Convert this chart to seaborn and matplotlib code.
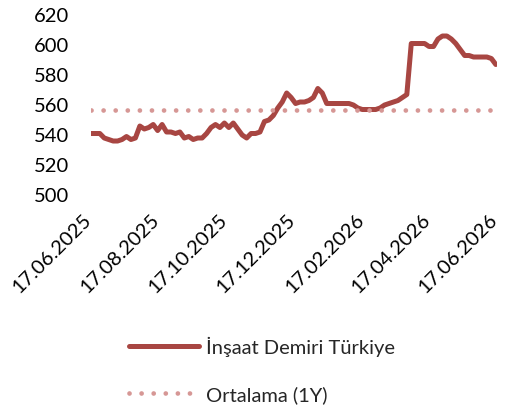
import matplotlib
matplotlib.use("Agg")
import matplotlib.pyplot as plt
import matplotlib.transforms as mtransforms
import seaborn as sns
import pandas as pd

# ---- data ----
start_date = "2025-06-17"
step = "4D"
values = [540, 540, 540, 537, 536, 535, 535, 536, 538, 536,
          537, 545, 543, 544, 546, 542, 546, 541, 541, 540,
          541, 537, 538, 536, 537, 537, 540, 544, 546, 544,
          547, 544, 547, 543, 539, 537, 540, 540, 541, 548,
          549, 552, 557, 561, 567, 564, 560, 561, 561, 562,
          564, 570, 567, 560, 560, 560, 560, 560, 560, 559,
          557, 556, 556, 556, 556, 557, 559, 560, 561, 562,
          564, 566, 600, 600, 600, 600, 598, 598, 603, 605,
          605, 603, 600, 596, 592, 592, 591, 591, 591, 591,
          590, 586]
mean_value = 556
series_name = "İnşaat Demiri Türkiye"
mean_name = "Ortalama (1Y)"
tick_dates = ["2025-06-17", "2025-08-17", "2025-10-17", "2025-12-17",
              "2026-02-17", "2026-04-17", "2026-06-17"]
y_ticks = [500, 520, 540, 560, 580, 600, 620]

dates = pd.date_range(start_date, periods=len(values), freq=step)
df = pd.DataFrame({"date": dates, "value": values,
                   "mean": [mean_value] * len(values)})

sns.set_theme(style="white")
plt.rcParams["font.family"] = ["Lato", "DejaVu Sans"]

fig = plt.figure(figsize=(5.05, 4.10), dpi=100)
ax = fig.add_axes([0.180, 0.5256, 0.804, 0.439])

main_color = "#A84642"
mean_color = "#D69795"
fs = 14.5

sns.lineplot(data=df, x="date", y="value", ax=ax, color=main_color,
             linewidth=3.6, label=series_name, solid_capstyle="round",
             solid_joinstyle="round")
sns.lineplot(data=df, x="date", y="mean", ax=ax, color=mean_color,
             linewidth=3.4, linestyle=(0, (0.01, 2.55)),
             dash_capstyle="round", label=mean_name)

ax.set_ylim(500, 620)
ax.set_yticks(y_ticks)
tdates = pd.to_datetime(tick_dates)
ax.set_xlim(tdates[0], tdates[-1])
ax.set_xticks(tdates)
ax.set_xticklabels([d.strftime("%d.%m.%Y") for d in tdates])
ax.tick_params(axis="both", length=0, labelsize=fs, colors="black")
ax.tick_params(axis="y", pad=16)
ax.tick_params(axis="x", pad=14)
offset = mtransforms.ScaledTranslation(-8 / 100, 3 / 100, fig.dpi_scale_trans)
for lab in ax.get_xticklabels():
    lab.set_rotation(45)
    lab.set_ha("right")
    lab.set_rotation_mode("anchor")
    lab.set_transform(lab.get_transform() + offset)
ax.set_xlabel("")
ax.set_ylabel("")
for s in ax.spines.values():
    s.set_visible(False)

ax.get_legend().remove()
h, l = ax.get_legend_handles_labels()
leg = fig.legend(h, l, loc="upper left", bbox_to_anchor=(0.235, 0.202),
                 frameon=False, fontsize=fs, handlelength=3.5,
                 labelspacing=1.42, handletextpad=0.32, borderpad=0)

fig.savefig("out.png", dpi=100)
